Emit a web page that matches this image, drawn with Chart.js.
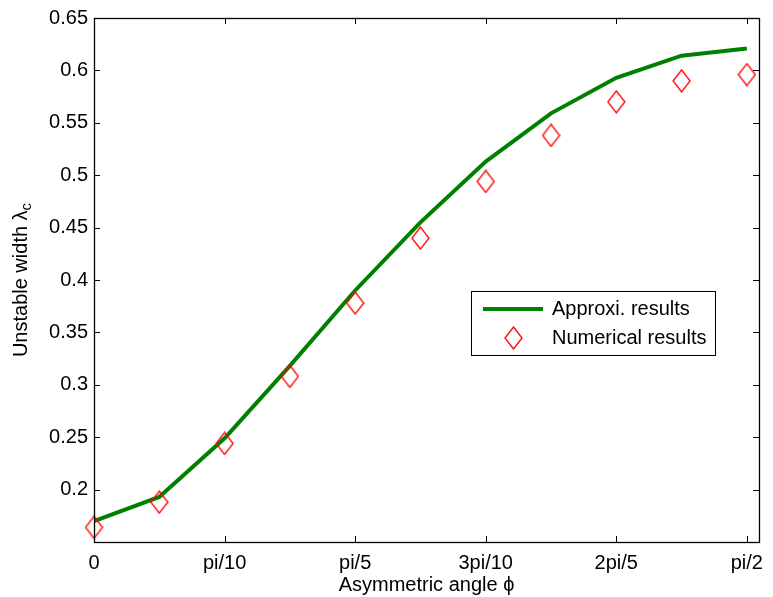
<!DOCTYPE html>
<html>
<head>
<meta charset="utf-8">
<script src="https://cdn.jsdelivr.net/npm/chart.js@4/dist/chart.umd.min.js"></script>
<style>
  html, body { margin: 0; padding: 0; background: #fff; }
  #wrap { width: 773px; height: 597px; }
</style>
</head>
<body>
<div id="wrap"><canvas id="chart" width="773" height="597"></canvas></div>
<script>
// asymmetric angle samples (radians, steps of pi/20)
const angles = [0, Math.PI / 20, Math.PI / 10, 3 * Math.PI / 20, Math.PI / 5, 5 * Math.PI / 20,
  3 * Math.PI / 10, 7 * Math.PI / 20, 2 * Math.PI / 5, 9 * Math.PI / 20, Math.PI / 2];
const approxValues = [0.170, 0.193, 0.249, 0.318, 0.390, 0.455, 0.513, 0.559, 0.593, 0.614, 0.621];
const numericValues = [0.164, 0.188, 0.244, 0.308, 0.378, 0.440, 0.494, 0.538, 0.570, 0.590, 0.596];
const xTickValues = [0, Math.PI / 10, Math.PI / 5, 3 * Math.PI / 10, 2 * Math.PI / 5, Math.PI / 2];
const xTickLabels = ['0', 'pi/10', 'pi/5', '3pi/10', '2pi/5', 'pi/2'];
const yTickValues = [0.2, 0.25, 0.3, 0.35, 0.4, 0.45, 0.5, 0.55, 0.6, 0.65];
const seriesNames = ['Approxi. results', 'Numerical results'];

const FONT = '"Liberation Sans", Arial, Helvetica, sans-serif';
const FONT_SIZE = 20;

// tall diamond marker like matlab's 'd'
function makeDiamond() {
  const w = 19, h = 24;
  const c = document.createElement('canvas');
  c.width = w; c.height = h;
  const ctx = c.getContext('2d');
  ctx.strokeStyle = '#ff0000';
  ctx.lineWidth = 1.3;
  ctx.beginPath();
  ctx.moveTo(w / 2, 1);
  ctx.lineTo(w - 1, h / 2);
  ctx.lineTo(w / 2, h - 1);
  ctx.lineTo(1, h / 2);
  ctx.closePath();
  ctx.stroke();
  return c;
}
const diamond = makeDiamond();

const pairs = (xs, ys) => xs.map((x, i) => ({ x: x, y: ys[i] }));

// box, inward ticks, legend and y title
const matlabAxes = {
  id: 'matlabAxes',
  afterDraw(chart) {
    const ctx = chart.ctx;
    const a = chart.chartArea;
    const xs = chart.scales.x, ys = chart.scales.y;
    const tl = 6;
    ctx.save();
    ctx.strokeStyle = '#000';
    ctx.lineWidth = 1;
    ctx.beginPath();
    xTickValues.forEach(v => {
      const px = Math.round(xs.getPixelForValue(v)) + 0.5;
      ctx.moveTo(px, a.bottom); ctx.lineTo(px, a.bottom - tl);
      ctx.moveTo(px, a.top); ctx.lineTo(px, a.top + tl);
    });
    yTickValues.forEach(v => {
      const py = Math.round(ys.getPixelForValue(v)) + 0.5;
      ctx.moveTo(a.left, py); ctx.lineTo(a.left + tl, py);
      ctx.moveTo(a.right, py); ctx.lineTo(a.right - tl, py);
    });
    ctx.stroke();
    ctx.lineWidth = 1.3;
    ctx.strokeRect(Math.round(a.left) + 0.5, Math.round(a.top) + 0.5,
      Math.round(a.right - a.left), Math.round(a.bottom - a.top));

    // legend
    const lx = 471, ly = 291, lw = 244, lh = 64;
    ctx.fillStyle = '#fff';
    ctx.fillRect(lx, ly, lw, lh);
    ctx.lineWidth = 1;
    ctx.strokeRect(lx + 0.5, ly + 0.5, lw, lh);
    ctx.strokeStyle = '#008000';
    ctx.lineWidth = 4;
    ctx.beginPath();
    ctx.moveTo(483, 309); ctx.lineTo(543, 309);
    ctx.stroke();
    ctx.drawImage(diamond, 513 - Math.floor(diamond.width / 2), 338 - diamond.height / 2);
    ctx.fillStyle = '#000';
    ctx.font = FONT_SIZE + 'px ' + FONT;
    ctx.textAlign = 'left';
    ctx.textBaseline = 'middle';
    ctx.fillText(seriesNames[0], 552, 309);
    ctx.fillText(seriesNames[1], 552, 338);

    // y axis title with subscript
    const main = 'Unstable width \u03bb';
    const sub = 'c';
    ctx.font = FONT_SIZE + 'px ' + FONT;
    const mw = ctx.measureText(main).width;
    ctx.font = (FONT_SIZE - 5) + 'px ' + FONT;
    const sw = ctx.measureText(sub).width;
    const total = mw + sw;
    ctx.translate(20, (a.top + a.bottom) / 2);
    ctx.rotate(-Math.PI / 2);
    ctx.textBaseline = 'alphabetic';
    ctx.font = FONT_SIZE + 'px ' + FONT;
    ctx.fillText(main, -total / 2, 7);
    ctx.font = (FONT_SIZE - 5) + 'px ' + FONT;
    ctx.fillText(sub, -total / 2 + mw, 11);
    ctx.restore();
  }
};

new Chart(document.getElementById('chart'), {
  type: 'line',
  data: {
    datasets: [
      {
        label: seriesNames[0],
        data: pairs(angles, approxValues),
        borderColor: '#008000',
        borderWidth: 4,
        pointRadius: 0,
        fill: false,
        tension: 0,
        order: 1
      },
      {
        label: seriesNames[1],
        data: pairs(angles, numericValues),
        showLine: false,
        pointStyle: diamond,
        pointRadius: 10,
        clip: false,
        order: 0
      }
    ]
  },
  options: {
    responsive: false,
    animation: false,
    devicePixelRatio: 1,
    layout: { padding: { top: 17, right: 14, left: 0, bottom: 0 } },
    plugins: {
      legend: { display: false },
      tooltip: { enabled: false }
    },
    scales: {
      x: {
        type: 'linear',
        min: 0,
        max: 1.6,
        grid: { display: false, drawTicks: false },
        border: { display: false },
        afterBuildTicks: s => { s.ticks = xTickValues.map(v => ({ value: v })); },
        afterFit: s => { s.height = 55; },
        ticks: {
          color: '#000',
          padding: 9,
          maxRotation: 0,
          autoSkip: false,
          font: { family: FONT, size: FONT_SIZE },
          callback: (v, i) => xTickLabels[i]
        },
        title: {
          display: true,
          text: 'Asymmetric angle \u03d5',
          color: '#000',
          padding: { top: 0, bottom: 0 },
          font: { family: FONT, size: FONT_SIZE }
        }
      },
      y: {
        type: 'linear',
        min: 0.15,
        max: 0.65,
        grid: { display: false, drawTicks: false },
        border: { display: false },
        afterBuildTicks: s => { s.ticks = yTickValues.map(v => ({ value: v })); },
        afterFit: s => { s.width = 94; },
        ticks: {
          color: '#000',
          padding: 6,
          font: { family: FONT, size: FONT_SIZE },
          callback: v => String(Math.round(v * 100) / 100)
        }
      }
    }
  },
  plugins: [matlabAxes]
});
</script>
</body>
</html>
